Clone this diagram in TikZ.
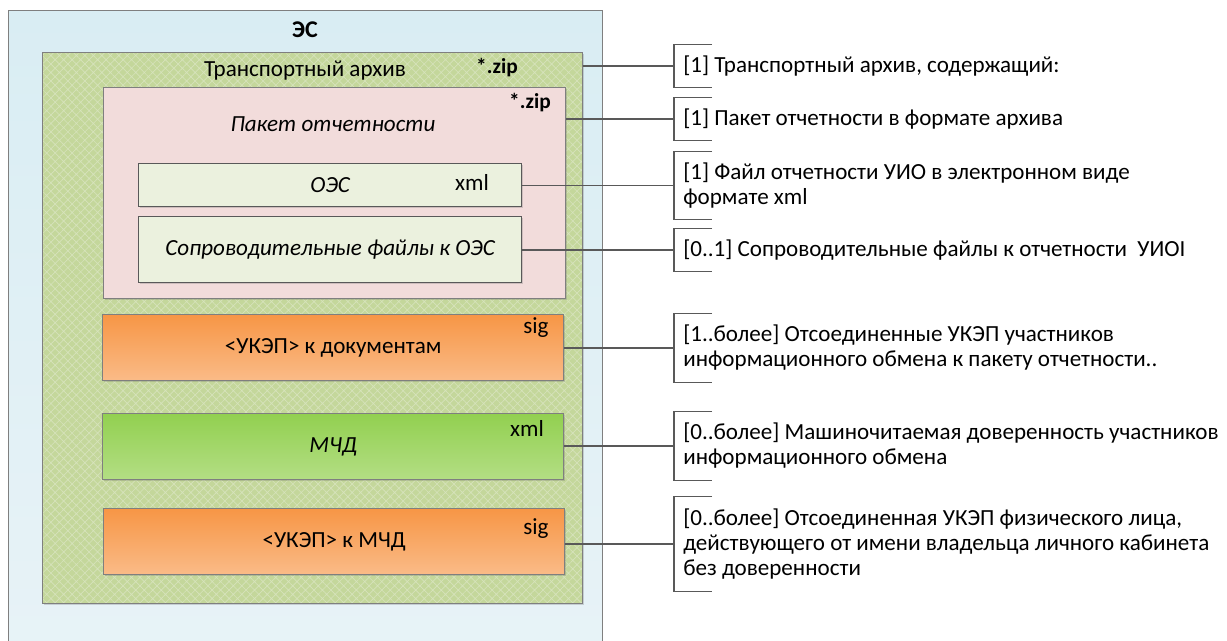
\documentclass[tikz,border=0pt]{standalone}
\usepackage{fontspec}
\setmainfont{Carlito}
\usetikzlibrary{positioning,shadows,patterns.meta}
\definecolor{cFrame}{HTML}{7F7F7F}
\definecolor{cLine}{HTML}{595959}
\definecolor{cSky}{HTML}{D9EDF3}
\definecolor{cSkyB}{HTML}{E8F3F7}
\definecolor{cMoss}{HTML}{C4D79B}
\definecolor{cMossL}{HTML}{D6E3BB}
\definecolor{cRose}{HTML}{F2DCDB}
\definecolor{cPale}{HTML}{EBF1DE}
\definecolor{cOrT}{HTML}{F79646}
\definecolor{cOrB}{HTML}{FABB88}
\definecolor{cLimT}{HTML}{92D050}
\definecolor{cLimB}{HTML}{B3DE84}
\newcommand\txtsize{\fontsize{17.3}{18.75}\selectfont}
\begin{document}
\begin{tikzpicture}[
  x=0.75pt, y=-0.75pt,
  font=\txtsize,
  sz/.style 2 args={minimum width=#1*0.75pt, minimum height=#2*0.75pt},
  box/.style={draw=cFrame, line width=1pt, anchor=north west, inner sep=0pt},
  shd/.style={drop shadow={shadow xshift=1.2pt, shadow yshift=-1.2pt,
              opacity=0.25, fill=black!60}},
  es/.style={box, top color=cSky, bottom color=cSkyB},
  arch/.style={box, shd, preaction={fill=cMoss},
               pattern={Hatch[angle=45, distance=4.5pt, line width=0.5pt]},
               pattern color=cMossL},
  pack/.style={box, shd, fill=cRose},
  file/.style={box, shd, fill=cPale, draw=cLine, font=\txtsize\itshape},
  sign/.style={box, shd, top color=cOrT, bottom color=cOrB},
  poa/.style={box, shd, top color=cLimT, bottom color=cLimB, font=\txtsize\itshape},
  tag/.style={inner sep=0pt},
  note/.style={anchor=west, align=left, inner xsep=6.75pt, inner ysep=0pt},
  brk/.style={draw=cLine, line width=1pt},
  wire/.style={draw=cLine, line width=1pt},
]
  \clip (0,0) rectangle (1227,641);
  % containers
  \node[es, sz={594}{660}] (es) at (8,10) {};
  \node[font=\fontsize{18}{20}\selectfont\bfseries] (esT) at (305,30) {ЭС};
  \node[arch, sz={540}{551}] (tr) at (42,52) {};
  \node[tag] (trT) at (305,71) {Транспортный архив};
  \node[tag, font=\fontsize{16}{18.75}\selectfont\bfseries] (trZ) at (497,68) {*.zip};
  \node[pack, sz={462}{211}] (pk) at (103,87) {};
  \node[tag, font=\fontsize{16}{18.75}\selectfont\bfseries] (pkZ) at (530,103) {*.zip};
  \node[tag, font=\txtsize\itshape] (pkT) at (333,124) {Пакет отчетности};
  % files
  \node[file, sz={383}{43}] (oes) at (138,163) {ОЭС};
  \node[tag] (oesX) at (472,182) {xml};
  \node[file, sz={383}{66}] (sop) at (138,216) {Сопроводительные файлы к ОЭС};
  \node[sign, sz={461}{66}] (uk1) at (102,314) {<УКЭП> к документам};
  \node[tag] (uk1S) at (536,328) {sig};
  \node[poa, sz={461}{66}] (mchd) at (102,413) {МЧД};
  \node[tag] (mchdX) at (527,428) {xml};
  \node[sign, sz={461}{66}] (uk2) at (103,508) {<УКЭП> к МЧД};
  \node[tag] (uk2S) at (536,529) {sig};
  % notes
  \node[note, sz={0}{42}] (n1) at (674,66) {[1] Транспортный архив, содержащий:};
  \node[note, sz={0}{42}] (n2) at (674,119) {[1] Пакет отчетности в формате архива};
  \node[note, sz={0}{67}] (n3) at (674,185.5)
    {[1] Файл отчетности УИО в электронном виде\\формате xml};
  \node[note, sz={0}{42}] (n4) at (674,250)
    {[0..1] Сопроводительные файлы к отчетности~ УИОI};
  \node[note, sz={0}{68}] (n5) at (674,348)
    {[1..более] Отсоединенные УКЭП участников\\информационного обмена к пакету отчетности..};
  \node[note, sz={0}{68}] (n6) at (674,446)
    {[0..более] Машиночитаемая доверенность участников\\информационного обмена};
  \node[note, sz={0}{94}] (n7) at (674,544)
    {[0..более] Отсоединенная УКЭП физического лица,\\действующего от имени владельца личного кабинета\\без доверенности};
  \foreach \n in {n1,n2,n3,n4,n5,n6,n7}
    \draw[brk] ([xshift=28.5pt]\n.north west) -- (\n.north west)
      -- (\n.south west) -- ([xshift=28.5pt]\n.south west);
  % connectors
  \draw[wire] (n1.west -| tr.east) -- (n1.west);
  \draw[wire] (n2.west -| pk.east) -- (n2.west);
  \draw[wire] (n3.west -| oes.east) -- (n3.west);
  \draw[wire] (n4.west -| sop.east) -- (n4.west);
  \draw[wire] (n5.west -| uk1.east) -- (n5.west);
  \draw[wire] (n6.west -| mchd.east) -- (n6.west);
  \draw[wire] (n7.west -| uk2.east) -- (n7.west);
\end{tikzpicture}
\end{document}
